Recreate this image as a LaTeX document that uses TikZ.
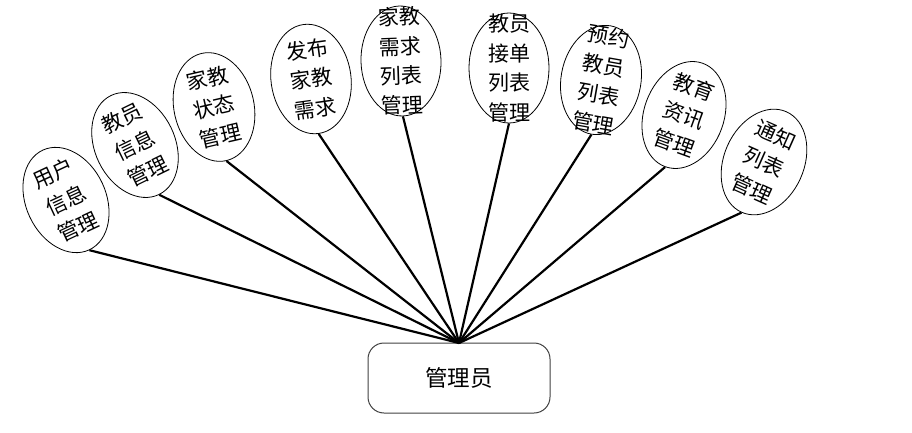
\documentclass[tikz,border=0pt]{standalone}
\usepackage{fontspec}
\setmainfont{Noto Sans CJK SC}
\usetikzlibrary{shapes.geometric}
\tikzset{
  oval/.style={draw=black, line width=0.8pt, ellipse, inner sep=0pt, minimum width=80pt, minimum height=110pt},
  ovaltext/.style={inner sep=0pt, align=center, font=\fontsize{21}{29.5}\selectfont},
  rootbox/.style={draw=black!75, line width=1pt, rounded corners=16pt, minimum width=182pt, minimum height=70pt, font=\fontsize{22.5}{26}\selectfont},
  spoke/.style={line width=2.2pt, black}
}
\begin{document}
\begin{tikzpicture}[x=1pt,y=-1pt]
\useasboundingbox (0,0) rectangle (912,433);
\node[rootbox] (root) at (459,378) {管理员};
\coordinate (hub) at (459,343);
\foreach \n/\x/\y/\r/\t in {
  e1/66/200/25/{用户\\信息\\管理},
  e2/135/145/26/{教员\\信息\\管理},
  e3/214/107/13/{家教\\状态\\管理},
  e4/311/79/8/{发布\\家教\\需求},
  e5/401/61/2/{家教\\需求\\列表\\管理},
  e6/509/68/0/{教员\\接单\\列表\\管理},
  e7/601/80/-10/{预约\\教员\\列表\\管理},
  e8/684/115/-20/{教育\\资讯\\管理},
  e9/764/162/-24/{通知\\列表\\管理}}{
  \node[oval, rotate=\r] (\n) at (\x,\y) {};
  \node[ovaltext, rotate=\r] (\n t) at (\n.center) {\t};
  \draw[spoke] (hub) -- (\n.south);
}
\end{tikzpicture}
\end{document}
